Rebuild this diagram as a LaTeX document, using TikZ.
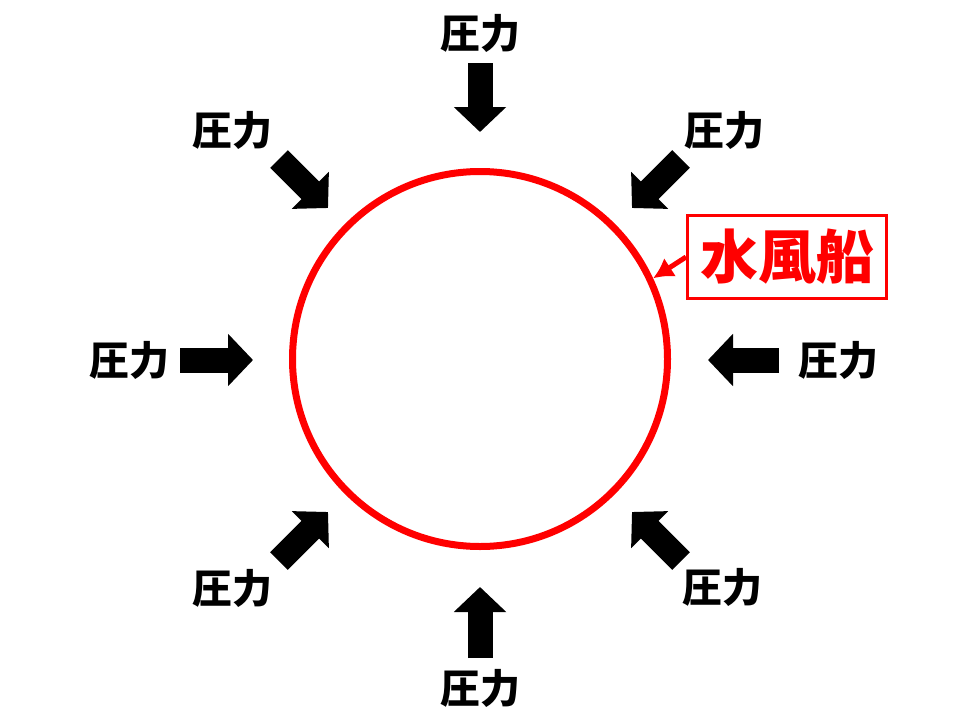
\documentclass[tikz,border=0pt]{standalone}
\usepackage{fontspec}
\newfontfamily\jpfont{Noto Sans CJK JP}
\usetikzlibrary{arrows.meta}

\begin{document}
\begin{tikzpicture}[x=1pt,y=-1pt]
  \tikzstyle{force}=[font=\jpfont\bfseries\fontsize{40}{40}\selectfont]
  \tikzstyle{push}=[line width=25pt,-{Triangle[length=25pt,width=51pt]}]
  \useasboundingbox (0,0) rectangle (960,720);
  \node[draw=red,line width=7pt,circle,minimum size=375pt] (balloon) at (480,359) {};
  \foreach \i / \lx / \ly / \tx / \ty / \hx / \hy in
     {1/480/33/480/63/480/132, 2/724/130/681/159/632/208,
      3/838/360/779/360/708/360, 4/722/587/681/561/632/512,
      5/480/688/480/658/480/587, 6/232/588/279/561/328/512,
      7/129/360/180/360/253/360, 8/232/130/279/159/328/208}
  {
     \node[force] (p\i) at (\lx,\ly) {圧力};
     \coordinate (t\i) at (\tx,\ty);
     \coordinate (h\i) at (\hx,\hy);
     \draw[push] (t\i) -- (h\i);
  }
  \node[draw=red,line width=3pt,minimum width=199pt,minimum height=83pt,
        text=red,font=\jpfont\bfseries\fontsize{58}{58}\selectfont] (name) at (787,257) {水風船};
  \draw[red,line width=5pt,-{Latex[length=20pt,width=22pt]}] (name.west) -- (balloon.25);
\end{tikzpicture}
\end{document}
